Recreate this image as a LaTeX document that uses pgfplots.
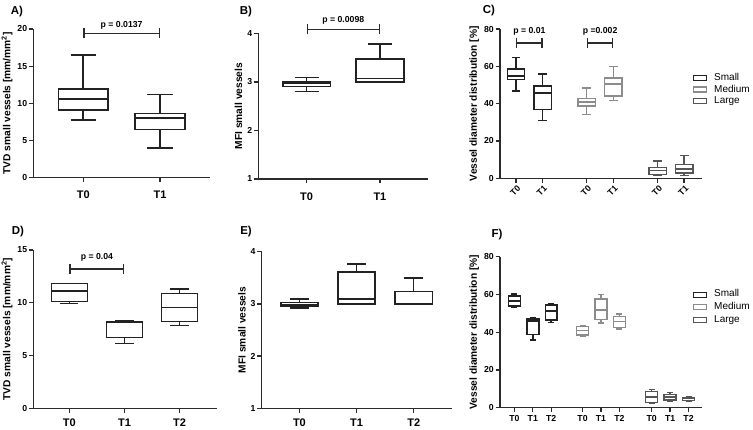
\documentclass[border=0pt]{standalone}
\usepackage{fontspec}
\setmainfont{Liberation Sans}
\usepackage{pgfplots}
\pgfplotsset{compat=1.18}
\usepgfplotslibrary{statistics}
\usetikzlibrary{arrows.meta}
\definecolor{cS}{HTML}{222222}
\definecolor{cM}{HTML}{8C8C8C}
\definecolor{cL}{HTML}{555555}
\definecolor{axc}{HTML}{2B2B2B}
\newcommand{\tf}{\bfseries\fontsize{8.7}{10}\selectfont}
\newcommand{\xf}{\bfseries\fontsize{11}{13}\selectfont}
\newcommand{\lf}{\bfseries\fontsize{10.2}{12}\selectfont}
\pgfplotsset{
 gp/.style={
  scale only axis, anchor=south west, axis lines=left,
  axis line style={-, line width=1.3pt, axc},
  tick align=outside, major tick length=4.5pt,
  tick style={line width=1.3pt, axc},
  clip=false,
  /pgf/number format/assume math mode=true,
  tick label style={font=\tf},
  yticklabel style={inner sep=1.5pt},
  label style={font=\lf},
 },
 gpcat/.style={xticklabel style={font=\xf, yshift=-5pt}},
}
% pos, lw, lq, med, uq, uw, colour
\newcommand{\bp}[7]{\addplot[forget plot, draw=#7, line width=1.5pt, solid, mark=none,
  boxplot prepared={draw direction=y, draw position=#1, lower whisker=#2, lower quartile=#3, median=#4,
  upper quartile=#5, upper whisker=#6, box extend=0.65, whisker extend=0.33}] coordinates {};}
% x1, x2, y, xmid, text, text shift
\newcommand{\br}[6]{\addplot[forget plot, line width=1.4pt, axc, {Bar[width=10pt]}-{Bar[width=10pt]}] coordinates {(#1,#3) (#2,#3)};
  \node[font=\tf, anchor=south, inner sep=0pt, yshift=#6] at (axis cs:#4,#3) {#5};}
\newcommand{\mylegend}{%
  \addlegendimage{legend image code/.code={\draw[line width=1.1pt,cS] (0pt,-2.5pt) rectangle (13pt,2.5pt);}}
  \addlegendentry{Small}
  \addlegendimage{legend image code/.code={\draw[line width=1.1pt,cM] (0pt,-2.5pt) rectangle (13pt,2.5pt);}}
  \addlegendentry{Medium}
  \addlegendimage{legend image code/.code={\draw[line width=1.1pt,cL] (0pt,-2.5pt) rectangle (13pt,2.5pt);}}
  \addlegendentry{Large}}
\begin{document}
\begin{tikzpicture}
\path[use as bounding box] (0pt,0pt) rectangle (753pt,429pt);
% panel letters
\node[font=\bfseries\fontsize{11.5}{13}\selectfont] at (17pt,417pt) {A)};
\node[font=\bfseries\fontsize{11.5}{13}\selectfont] at (246pt,417pt) {B)};
\node[font=\bfseries\fontsize{11.5}{13}\selectfont] at (489pt,418pt) {C)};
\node[font=\bfseries\fontsize{11.5}{13}\selectfont] at (18pt,197pt) {D)};
\node[font=\bfseries\fontsize{11.5}{13}\selectfont] at (246pt,197pt) {E)};
\node[font=\bfseries\fontsize{11.5}{13}\selectfont] at (497pt,194pt) {F)};

% ---------- A ----------
\begin{axis}[gp, gpcat, at={(33.3pt,251.3pt)}, width=176.7pt, height=148.7pt,
  xmin=0.35, xmax=2.65, ymin=0, ymax=20, ytick={0,5,10,15,20},
  xtick={1,2}, xticklabels={T0,T1},
  ylabel={TVD small vessels [mm/mm\textsuperscript{2}]}]
\bp{1}{7.75}{9.1}{10.6}{11.9}{16.5}{cS}
\bp{2}{4.0}{6.5}{8.0}{8.65}{11.2}{cS}
\br{1}{2}{19.4}{1.5}{p = 0.0137}{4pt}
\end{axis}

% ---------- B ----------
\begin{axis}[gp, gpcat, at={(258.3pt,250pt)}, width=170pt, height=145.7pt,
  xmin=0.34, xmax=2.66, ymin=1, ymax=4, ytick={1,2,3,4},
  xtick={1,2}, xticklabels={T0,T1}, xticklabel style={yshift=-1pt},
  ylabel={MFI small vessels}]
\bp{1}{2.80}{2.90}{2.97}{3.00}{3.09}{cS}
\bp{2}{3.0}{3.0}{3.07}{3.47}{3.78}{cS}
\br{1}{2}{4.08}{1.5}{p = 0.0098}{5pt}
\end{axis}

% ---------- C ----------
\begin{axis}[gp, at={(500pt,250.7pt)}, width=202pt, height=149.3pt,
  xmin=-0.6, xmax=6.97, ymin=0, ymax=80, ytick={0,20,40,60,80},
  xtick={0,1,2.65,3.65,5.31,6.3}, xticklabels={T0,T1,T0,T1,T0,T1},
  xticklabel style={rotate=45, anchor=north east, inner sep=1pt, yshift=-1pt},
  ylabel={Vessel diameter distribution [\%]},
  legend cell align=left,
  legend style={draw=none, fill=none, inner sep=0pt, at={(0.955,0.712)}, anchor=north west,
    font=\fontsize{10}{12}\selectfont, row sep=0pt, column sep=6pt,
    nodes={inner sep=1pt, text height=7.5pt, text depth=2pt}}]
\bp{0}{46.7}{53.0}{54.8}{58.5}{64.6}{cS}
\bp{1}{31.1}{36.9}{45.8}{49.4}{55.8}{cS}
\bp{2.65}{34.2}{38.7}{40.8}{42.8}{48.5}{cM}
\bp{3.65}{41.7}{44.0}{50.5}{53.7}{59.8}{cM}
\bp{5.31}{1.6}{2.1}{4.3}{5.7}{9.3}{cL}
\bp{6.3}{1.6}{2.8}{5.0}{7.5}{12.2}{cL}
\br{0}{1}{72.6}{0.5}{p = 0.01}{7pt}
\br{2.65}{3.65}{72.6}{3.15}{p =0.002}{7pt}
\mylegend
\end{axis}

% ---------- D ----------
\begin{axis}[gp, gpcat, at={(33.3pt,20.7pt)}, width=183.7pt, height=158.3pt,
  xmin=0.345, xmax=3.68, ymin=0, ymax=15, ytick={0,5,10,15},
  xtick={1,2,3}, xticklabels={T0,T1,T2}, xticklabel style={yshift=2.5pt},
  ylabel={TVD small vessels [mm/mm\textsuperscript{2}]}]
\bp{1}{9.95}{10.1}{11.11}{11.84}{11.84}{cS}
\bp{2}{6.16}{6.69}{8.15}{8.21}{8.27}{cS}
\bp{3}{7.83}{8.21}{9.54}{10.9}{11.3}{cS}
\br{1}{2}{13.2}{1.5}{p = 0.04}{7pt}
\end{axis}

% ---------- E ----------
\begin{axis}[gp, gpcat, at={(261.7pt,20.7pt)}, width=190.3pt, height=156.6pt,
  xmin=0.34, xmax=3.67, ymin=1, ymax=4, ytick={1,2,3,4},
  xtick={1,2,3}, xticklabels={T0,T1,T2}, xticklabel style={yshift=2.5pt},
  ylabel={MFI small vessels}]
\bp{1}{2.92}{2.96}{2.99}{3.03}{3.09}{cS}
\bp{2}{3.0}{3.0}{3.09}{3.61}{3.76}{cS}
\bp{3}{3.0}{3.0}{3.0}{3.24}{3.50}{cS}
\end{axis}

% ---------- F ----------
\begin{axis}[gp, at={(500pt,21.3pt)}, width=202pt, height=151pt,
  xmin=-0.78, xmax=10.18, ymin=0, ymax=80, ytick={0,20,40,60,80},
  xtick={0,1,2,3.7,4.7,5.7,7.45,8.45,9.45}, xticklabels={T0,T1,T2,T0,T1,T2,T0,T1,T2},
  ylabel={Vessel diameter distribution [\%]},
  legend cell align=left,
  legend style={draw=none, fill=none, inner sep=0pt, at={(0.955,0.793)}, anchor=north west,
    font=\fontsize{10}{12}\selectfont, row sep=0pt, column sep=6pt,
    nodes={inner sep=1pt, text height=7.5pt, text depth=3.3pt}}]
\bp{0}{53.2}{54.0}{56.5}{59.2}{60.2}{cS}
\bp{1}{36.0}{38.9}{45.9}{47.0}{47.7}{cS}
\bp{2}{45.2}{46.5}{51.2}{54.4}{55.3}{cS}
\bp{3.7}{38.0}{38.5}{40.8}{42.9}{43.3}{cM}
\bp{4.7}{45.0}{46.8}{51.8}{57.6}{60.0}{cM}
\bp{5.7}{41.7}{42.6}{45.6}{48.2}{49.6}{cM}
\bp{7.45}{2.1}{2.8}{5.8}{8.5}{9.7}{cL}
\bp{8.45}{3.2}{4.1}{5.8}{7.1}{8.0}{cL}
\bp{9.45}{3.5}{3.9}{4.8}{5.3}{5.8}{cL}
\mylegend
\end{axis}
\end{tikzpicture}
\end{document}
